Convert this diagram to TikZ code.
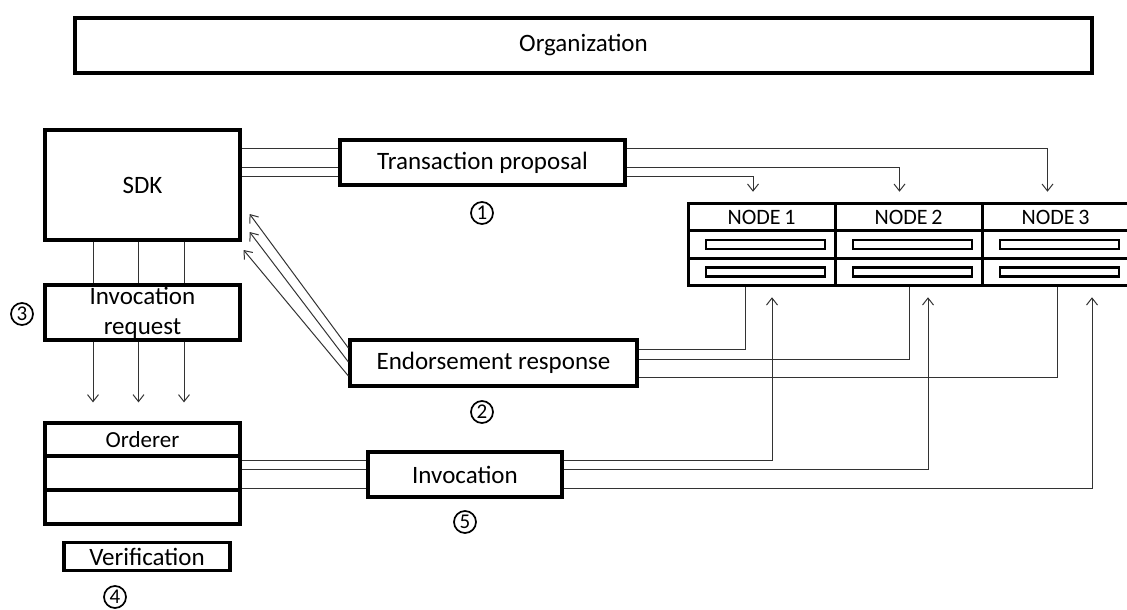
\documentclass[tikz,border=0pt]{standalone}
\usepackage{fontspec}
\setmainfont{Carlito}
\usetikzlibrary{arrows.meta,calc}
\tikzset{
  box/.style={draw=black,line width=3.2pt,fill=white,inner sep=0pt,font=\fontsize{25}{30}\selectfont},
  cell/.style={draw=black,line width=3pt,inner sep=0pt,minimum width=147pt,minimum height=27.5pt,font=\fontsize{22}{24}\selectfont},
  bar/.style={draw=black,line width=2.8pt,minimum width=119pt,minimum height=9pt,inner sep=0pt},
  conn/.style={draw=black!80,line width=1pt},
  arr/.style={conn,-{Straight Barb[length=7pt,width=11pt,line width=1pt]}},
  circ/.style={circle,draw=black,line width=1.7pt,minimum size=22pt,inner sep=0pt,font=\fontsize{21}{21}\selectfont}
}
\begin{document}
\begin{tikzpicture}[x=1pt,y=-1pt]
\useasboundingbox (0,0) rectangle (1127,610);
% boxes
\node[box,minimum width=1017pt,minimum height=55pt] (org) at (583.5,45.5) {Organization};
\node[box,minimum width=195pt,minimum height=110pt] (sdk) at (142.5,185) {SDK};
\node[box,minimum width=285pt,minimum height=45pt] (tp) at (482.5,162.5) {Transaction proposal};
\node[box,minimum width=287pt,minimum height=46pt] (er) at (493.5,363) {Endorsement response};
\node[box,minimum width=194pt,minimum height=45pt] (inv) at (465,474.5) {Invocation};
\node[box,minimum width=195pt,minimum height=55pt,align=center,font=\fontsize{25}{30}\selectfont] (ir) at (142.5,312.5) {Invocation\\request};
\node[box,minimum width=195pt,minimum height=101pt] (ord) at (142.5,473.5) {};
\draw[line width=3.2pt] (ord.west |- 0,456) -- (ord.east |- 0,456);
\draw[line width=3.2pt] (ord.west |- 0,490) -- (ord.east |- 0,490);
\node[font=\fontsize{23}{24}\selectfont] (ordt) at (142.5,440) {Orderer};
\node[box,minimum width=166pt,minimum height=28pt] (ver) at (147,556.5) {Verification};
% node table
\node[cell] (n1) at (761.5,217) {NODE\,1};
\node[cell] (n2) at (908.5,217) {NODE\,2};
\node[cell] (n3) at (1055.5,217) {NODE\,3};
\node[cell] (n1b) at (761.5,244.5) {};
\node[cell] (n2b) at (908.5,244.5) {};
\node[cell] (n3b) at (1055.5,244.5) {};
\node[cell] (n1c) at (761.5,272) {};
\node[cell] (n2c) at (908.5,272) {};
\node[cell] (n3c) at (1055.5,272) {};
\node[bar] (b1) at ($(n1b)+(4,0)$) {};
\node[bar] (b2) at ($(n2b)+(4,0)$) {};
\node[bar] (b3) at ($(n3b)+(4,0)$) {};
\node[bar] (c1) at ($(n1c)+(4,0)$) {};
\node[bar] (c2) at ($(n2c)+(4,0)$) {};
\node[bar] (c3) at ($(n3c)+(4,0)$) {};
% circled numbers
\node[circ] (s1) at (482,213) {1};
\node[circ] (s2) at (482,412) {2};
\node[circ] (s3) at (22,314) {3};
\node[circ] (s4) at (115,597) {4};
\node[circ] (s5) at (465,522) {5};
% SDK -> TP
\foreach \y in {148,167,176} \draw[conn] (sdk.east |- 0,\y) -- (tp.west |- 0,\y);
% TP -> nodes
\draw[arr] (tp.east |- 0,148) -| ($(n3.north)+(-8,-10)$);
\draw[arr] (tp.east |- 0,167) -| ($(n2.north)+(-9,-10)$);
\draw[arr] (tp.east |- 0,176) -| ($(n1.north)+(-8.5,-10)$);
% SDK -> IR
\foreach \x in {93,138.5,184} \draw[conn] (sdk.south -| \x,0) -- (ir.north -| \x,0);
% IR -> Orderer
\foreach \x in {93,138.5,184} \draw[arr] (ir.south -| \x,0) -- ($(ord.north -| \x,0)+(0,-19)$);
% ER -> SDK
\draw[arr] (er.west |- 0,348) -- ($(sdk.east)+(8,29)$);
\draw[arr] (er.west |- 0,362) -- ($(sdk.east)+(8,47)$);
\draw[arr] (er.west |- 0,376) -- ($(sdk.east)+(2,65)$);
% nodes -> ER
\draw[conn] (n1c.south -| 745,0) |- (er.east |- 0,349);
\draw[conn] (n2c.south -| 909,0) |- (er.east |- 0,359);
\draw[conn] (n3c.south -| 1057,0) |- (er.east |- 0,377);
% Orderer -> Invocation
\foreach \y in {460,469,488} \draw[conn] (ord.east |- 0,\y) -- (inv.west |- 0,\y);
% Invocation -> nodes
\draw[arr] (inv.east |- 0,460) -| ($(n1c.south -| 772,0)+(0,10)$);
\draw[arr] (inv.east |- 0,469) -| ($(n2c.south -| 928,0)+(0,10)$);
\draw[arr] (inv.east |- 0,488) -| ($(n3c.south -| 1092,0)+(0,10)$);
\end{tikzpicture}
\end{document}
